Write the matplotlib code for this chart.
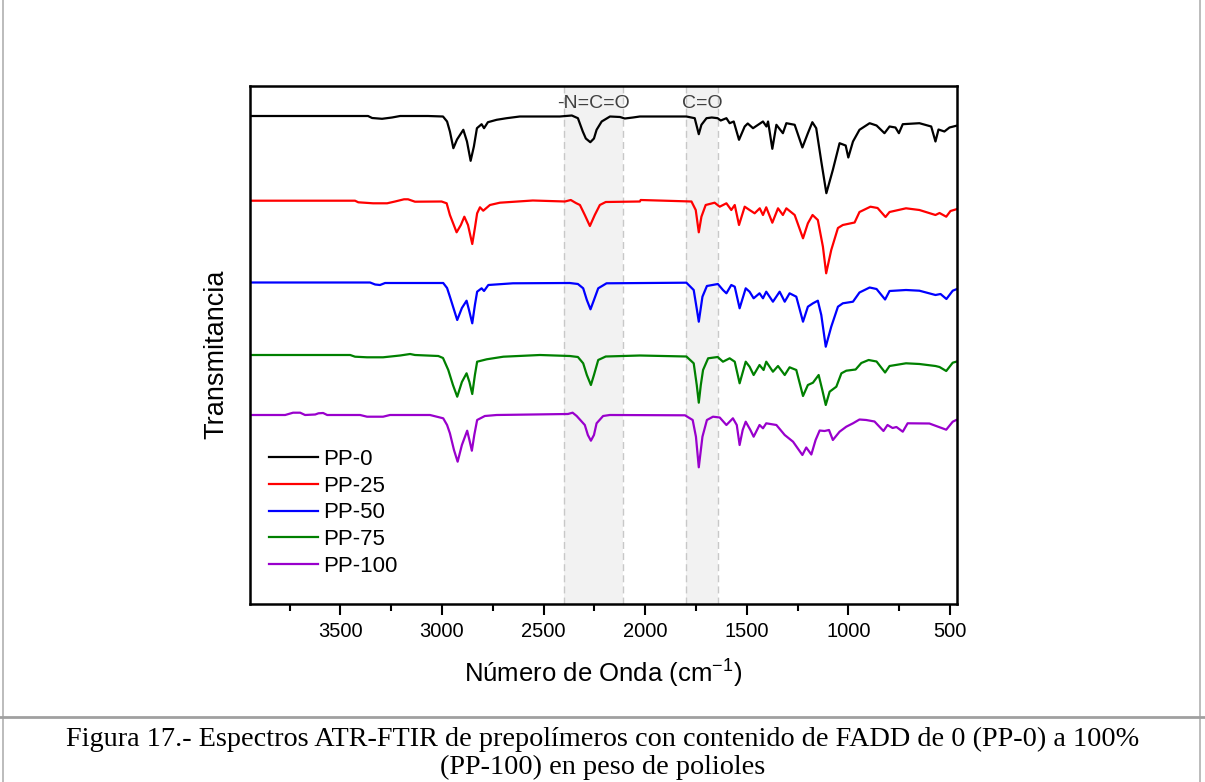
import matplotlib
matplotlib.use("Agg")
import matplotlib.pyplot as plt
from matplotlib.ticker import MultipleLocator
from matplotlib.lines import Line2D

# ---------------- data (arbitrary transmittance units) ----------------
series_names = ["PP-0", "PP-25", "PP-50", "PP-75", "PP-100"]
series_colors = ["#000000", "#ff0000", "#0000ff", "#008000", "#9900cc"]

wn_pp0 = [3944, 3364, 3344, 3295, 3246, 3206, 3069, 2995, 2975, 2961, 2944, 2926, 2895, 2877, 2859,
          2843, 2828, 2805, 2793, 2774, 2731, 2682, 2617, 2420, 2361, 2331, 2307, 2292, 2270, 2252,
          2239, 2214, 2173, 2124, 2100, 2060, 2026, 1797, 1756, 1736, 1723, 1698, 1672, 1643, 1628,
          1600, 1584, 1564, 1538, 1510, 1495, 1469, 1420, 1403, 1395, 1374, 1354, 1322, 1305, 1264,
          1226, 1199, 1177, 1158, 1133, 1108, 1076, 1043, 1013, 1000, 977, 945, 895, 861, 822, 797,
          768, 751, 732, 650, 592, 571, 556, 527, 502, 469]
t_pp0 = [488, 488, 486, 485.2, 486.5, 488, 488, 487.5, 482.5, 472.5, 455.8, 464.5, 474.2, 462.5, 443.2,
         457.5, 475.8, 479.8, 475.8, 481.8, 484.2, 485.8, 487.5, 487.5, 488.5, 485.8, 472.5, 465.5, 461.8, 465.5,
         474.2, 482.5, 487.5, 487, 485.5, 486.5, 487.5, 487.5, 485.8, 469.8, 479.2, 485.8, 486.5, 485.8, 483.5,
         485.8, 480.8, 482.5, 464.2, 477.5, 480.5, 475.8, 482.5, 477.5, 482.5, 455.2, 479.2, 470.8, 480.8, 479.2,
         456.5, 470.8, 481.8, 475.8, 442.5, 410.8, 434.2, 460.8, 458.5, 446.5, 462.5, 474.2, 480.8, 478.5, 470.8, 477.5,
         476.5, 470.8, 479.8, 480.8, 477.5, 462.5, 474.5, 472.5, 476.5, 478.2]

wn_pp25 = [3944, 3428, 3412, 3339, 3270, 3231, 3187, 3167, 3133, 3002, 2977, 2961, 2928, 2907, 2890,
           2872, 2851, 2838, 2827, 2813, 2797, 2764, 2715, 2553, 2395, 2366, 2341, 2321, 2297, 2272,
           2248, 2223, 2194, 2026, 2022, 1854, 1772, 1751, 1736, 1723, 1702, 1658, 1633, 1600, 1576,
           1559, 1538, 1510, 1486, 1461, 1436, 1420, 1404, 1374, 1346, 1322, 1305, 1264, 1223, 1199,
           1176, 1150, 1125, 1109, 1084, 1051, 1027, 969, 945, 891, 856, 817, 797, 716, 650, 571, 551,
           518, 497, 469]
t_pp25 = [403.3, 403.3, 401.7, 400.7, 400.7, 402.5, 404.7, 404.7, 402.3, 402.5, 400.7, 389, 371.7, 379, 387.3,
          379, 360, 376, 390.7, 396.7, 393.3, 399, 401.3, 403.5, 402.5, 404, 401, 399, 389, 378,
          389, 399, 402, 402.5, 404, 403, 402.5, 394, 371.7, 387.3, 399, 401.3, 397.3, 400.7, 394,
          399, 379, 397.3, 394, 390.7, 395.7, 389, 396.7, 381.3, 395.7, 389, 395.7, 389, 365.7, 380.7,
          389, 384, 357.3, 330.7, 354, 376, 379, 381.5, 392, 397.3, 396, 387, 392, 395.7, 394, 389, 391,
          387.3, 393, 394.7]

wn_pp50 = [3944, 3354, 3329, 3305, 3280, 2994, 2975, 2961, 2925, 2902, 2879, 2867, 2851, 2838, 2827,
           2805, 2793, 2772, 2651, 2371, 2331, 2305, 2287, 2269, 2252, 2231, 2190, 1797, 1761, 1745,
           1736, 1718, 1696, 1642, 1617, 1600, 1576, 1559, 1535, 1505, 1486, 1466, 1437, 1420, 1404,
           1371, 1338, 1313, 1289, 1256, 1223, 1199, 1174, 1150, 1133, 1111, 1084, 1051, 1027, 977,
           945, 895, 861, 819, 797, 716, 650, 571, 546, 517, 486, 469]
t_pp50 = [321.5, 321.5, 319.5, 319, 321, 321, 316, 307.3, 284, 296, 303.3, 294, 280.7, 299, 312.3,
          315.7, 313, 319, 320.7, 321, 320, 315.7, 304, 294.7, 304, 315.7, 320.7, 321.3, 314, 294,
          282.3, 307.3, 318, 320, 314, 310.7, 319, 317.3, 295.7, 315.7, 312.3, 305.7, 310.7, 305.7, 312.3,
          302.3, 312.3, 302.3, 310.7, 307.3, 282.3, 297.3, 300.7, 303.3, 289, 257.3, 277.3, 297.3, 300.7, 302.3,
          311.5, 316.5, 315, 304.5, 313, 314, 313.3, 309, 310, 305, 313.3, 314.7]

wn_pp75 = [3944, 3452, 3428, 3369, 3290, 3206, 3157, 3133, 3018, 2995, 2969, 2946, 2925, 2902, 2879,
           2865, 2851, 2838, 2827, 2780, 2698, 2518, 2371, 2331, 2305, 2287, 2267, 2252, 2231, 2194,
           2026, 1797, 1761, 1746, 1736, 1726, 1715, 1690, 1643, 1617, 1584, 1559, 1535, 1505, 1486,
           1466, 1437, 1417, 1404, 1371, 1346, 1313, 1289, 1256, 1223, 1199, 1174, 1146, 1128, 1111,
           1092, 1059, 1034, 1010, 964, 936, 900, 861, 819, 797, 716, 650, 571, 551, 518, 486, 469]
t_pp75 = [249, 249, 247.3, 246.7, 246.7, 248.5, 250, 249, 248, 246, 234, 219, 207.3, 222, 230.7,
          222, 210, 229, 242.3, 244.7, 247.3, 249, 248, 247, 240.7, 229, 219, 229, 244, 247.5,
          248.5, 247.5, 240.7, 219, 201.3, 219, 234, 245.7, 247, 242.3, 245.7, 242.3, 220.7, 242.3, 237.3,
          229, 239, 234, 242.3, 232.3, 238, 229, 236.7, 234, 208, 219, 221.3, 229, 214, 199,
          212.3, 217.3, 230.7, 233.3, 234.5, 241, 244, 242.5, 231.5, 238, 240.7, 240, 238, 237, 233, 241.3, 242.3]

wn_pp100 = [3944, 3772, 3733, 3698, 3674, 3624, 3608, 3585, 3565, 3403, 3369, 3290, 3256, 3059, 2994,
            2975, 2961, 2941, 2923, 2902, 2876, 2865, 2853, 2841, 2827, 2789, 2731, 2380, 2357, 2337,
            2297, 2282, 2267, 2252, 2239, 2207, 2174, 1804, 1766, 1750, 1736, 1718, 1696, 1666, 1633,
            1600, 1568, 1549, 1535, 1520, 1505, 1482, 1466, 1437, 1420, 1404, 1354, 1313, 1272, 1226,
            1207, 1182, 1161, 1141, 1117, 1095, 1076, 1043, 1010, 977, 945, 912, 871, 827, 807, 782,
            763, 732, 708, 601, 518, 486, 469]
t_pp100 = [189, 189, 191.3, 191.3, 189, 189.5, 190.7, 191, 189, 189, 187.3, 187.3, 189, 189, 185.7,
           179, 170.7, 154, 142.3, 159, 173.3, 164, 153.3, 169, 184, 188, 189, 190, 191.3, 188,
           179, 169, 163.3, 169, 180.7, 188, 189, 188.7, 184, 167.3, 136.7, 167.3, 184, 187.3, 186.5,
           179, 185.7, 179, 159, 174, 182.3, 174, 167.3, 179, 175.7, 180.7, 179, 169, 162.3, 149,
           156.5, 149.5, 164, 173.5, 173, 174, 164, 172.3, 177.3, 180.7, 184.5, 184, 182.5, 173, 179, 176,
           177, 172.3, 180.7, 180.5, 174.3, 182.3, 184]

wn_series = [wn_pp0, wn_pp25, wn_pp50, wn_pp75, wn_pp100]
t_series = [t_pp0, t_pp25, t_pp50, t_pp75, t_pp100]

band_ranges = [(2400, 2110), (1800, 1640)]
band_labels = ["-N=C=O", "C=O"]
x_ticks = [3500, 3000, 2500, 2000, 1500, 1000, 500]

# ---------------- figure ----------------
W, H = 1205, 782
fig = plt.figure(figsize=(W / 100, H / 100), dpi=100)
plt.rcParams['font.family'] = ['Liberation Sans', 'DejaVu Sans']
plt.rcParams['mathtext.default'] = 'regular'

ax = fig.add_axes([250 / W, 1 - 604 / H, (957 - 250) / W, (604 - 86) / H])

for (a, b) in band_ranges:
    ax.axvspan(b, a, color="#f2f2f2", zorder=0, lw=0)
    for v in (a, b):
        ax.axvline(v, color="#c8c8c8", ls=(0, (5, 3)), lw=1.0, zorder=0.5)

for wn, t, c, n in zip(wn_series, t_series, series_colors, series_names):
    ax.plot(wn, t, color=c, lw=1.6, label=n, zorder=2, solid_joinstyle="round")

ax.set_xlim(3945, 465)
ax.set_ylim(0, 518)

for (a, b), lab in zip(band_ranges, band_labels):
    ax.text((a + b) / 2, 500, lab, ha="center", va="center", fontsize=14, color="#404040")

ax.set_yticks([])
ax.set_xticks(x_ticks)
ax.xaxis.set_minor_locator(MultipleLocator(250))
ax.tick_params(axis="x", which="major", direction="out", length=8, width=1.5, labelsize=14.5, pad=5)
ax.tick_params(axis="x", which="minor", direction="out", length=5, width=1.5)
for s in ax.spines.values():
    s.set_linewidth(1.8)

ax.set_xlabel("Número de Onda (cm$^{-1}$)", fontsize=18.5, labelpad=12)
ax.set_ylabel("Transmitancia", fontsize=19.5)
ax.yaxis.set_label_coords(-0.029, 0.483)

handles = [Line2D([0], [0], color=c, lw=1.6) for c in series_colors]
leg = ax.legend(handles, series_names, loc="lower left", bbox_to_anchor=(0.015, 0.035),
                frameon=False, fontsize=16, handlelength=2.2, handletextpad=0.22,
                labelspacing=0.26, borderaxespad=0)

# outer frame and caption
fig.add_artist(Line2D([3 / W, 3 / W], [0, 1], color="#b0b0b0", lw=1.2))
fig.add_artist(Line2D([1200 / W, 1200 / W], [0, 1], color="#b0b0b0", lw=1.2))
fig.add_artist(Line2D([0, 1], [1 - 717 / H, 1 - 717 / H], color="#a0a0a0", lw=2))

fig.text(0.5, 1 - 739 / H,
         "Figura 17.- Espectros ATR-FTIR de prepolímeros con contenido de FADD de 0 (PP-0) a 100%",
         ha="center", va="center", fontsize=20.3, family=["Liberation Serif", "DejaVu Serif"])
fig.text(0.5, 1 - 767 / H, "(PP-100) en peso de polioles",
         ha="center", va="center", fontsize=20.3, family=["Liberation Serif", "DejaVu Serif"])

fig.savefig("out.png", dpi=100)
